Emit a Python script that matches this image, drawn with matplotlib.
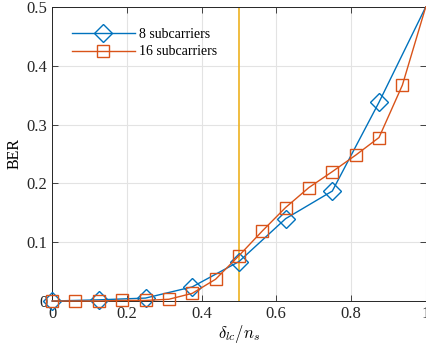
import matplotlib
matplotlib.use("Agg")
import matplotlib.pyplot as plt

# BER versus normalised offset
x8 = [0, 0.125, 0.25, 0.375, 0.5, 0.625, 0.75, 0.875, 1.0]
ber8 = [0, 0.002, 0.005, 0.024, 0.067, 0.140, 0.187, 0.338, 0.5]

x16 = [0, 0.0625, 0.125, 0.1875, 0.25, 0.3125, 0.375, 0.4375, 0.5,
       0.5625, 0.625, 0.6875, 0.75, 0.8125, 0.875, 0.9375, 1.0]
ber16 = [0, 0, 0, 0.001, 0.001, 0.003, 0.013, 0.037, 0.077,
         0.119, 0.159, 0.193, 0.220, 0.248, 0.278, 0.367, 0.5]

threshold = 0.5

plt.rcParams['font.family'] = ['Liberation Serif', 'DejaVu Serif']
plt.rcParams['mathtext.fontset'] = 'cm'

fig = plt.figure(figsize=(4.27, 3.48), dpi=100)
ax = fig.add_axes([0.122, 0.135, 0.875, 0.845])

ax.plot(x8, ber8, color='#0072BD', lw=1.0, marker='D', markersize=9,
        markerfacecolor='none', markeredgewidth=1.0, markevery=slice(0, -1),
        clip_on=False, label='8 subcarriers', zorder=3)
ax.plot(x16, ber16, color='#D95319', lw=1.0, marker='s', markersize=8,
        markerfacecolor='none', markeredgewidth=1.0, markevery=slice(0, -1),
        clip_on=False, label='16 subcarriers', zorder=3)
ax.axvline(threshold, color='#EDB120', lw=1.2, zorder=2)

ax.set_xlim(0, 1)
ax.set_ylim(0, 0.5)
ax.set_xticks([0, 0.2, 0.4, 0.6, 0.8, 1])
ax.set_xticklabels(['0', '0.2', '0.4', '0.6', '0.8', '1'])
ax.set_yticks([0, 0.1, 0.2, 0.3, 0.4, 0.5])
ax.set_yticklabels(['0', '0.1', '0.2', '0.3', '0.4', '0.5'])
ax.tick_params(direction='in', top=True, right=True, labelsize=12,
               length=4, width=0.6, colors='#262626')
ax.grid(True, color='#e3e3e3', lw=0.8)
ax.set_axisbelow(True)
for s in ax.spines.values():
    s.set_linewidth(0.7)
    s.set_color('#262626')

ax.set_xlabel(r'$\delta_{lc}/n_s$', fontsize=12, labelpad=1)
ax.set_ylabel('BER', fontsize=11.5, labelpad=3)

ax.legend(loc='upper left', bbox_to_anchor=(0.02, 0.97), frameon=False,
          fontsize=10, handlelength=4.5, handletextpad=0.3, labelspacing=0.3)

plt.savefig('out.png', dpi=100)
plt.close()
